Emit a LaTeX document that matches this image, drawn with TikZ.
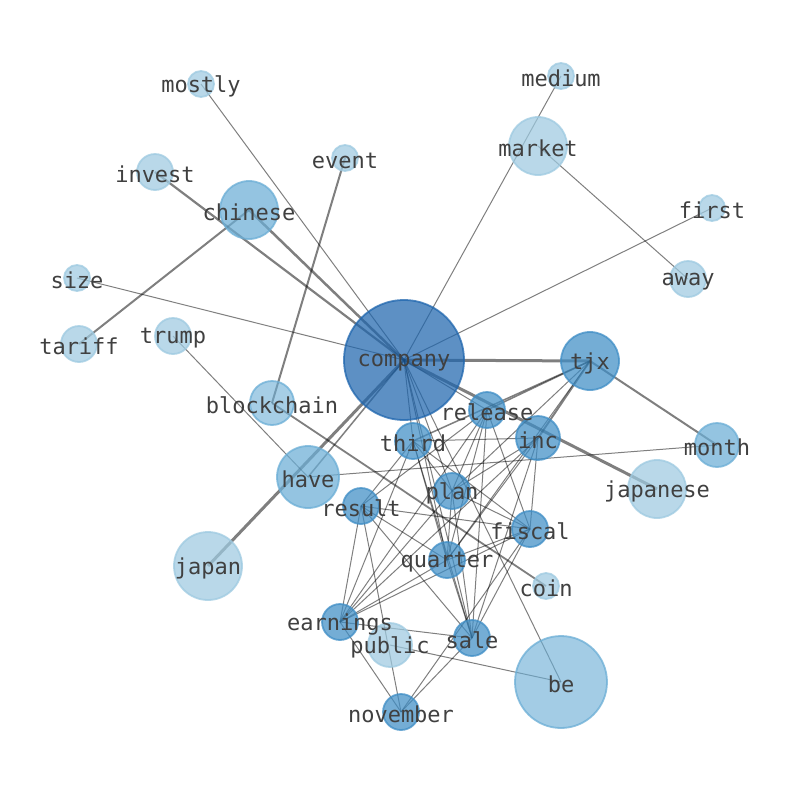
\documentclass[tikz,border=0pt]{standalone}
\usepackage{fontspec}
\setmonofont{DejaVu Sans Mono}
\usetikzlibrary{backgrounds}

\definecolor{nivA}{HTML}{1F66AE}
\definecolor{nivB}{HTML}{3F8EC6}
\definecolor{nivC}{HTML}{6BAED6}
\definecolor{nivD}{HTML}{9ECAE1}

\tikzset{
  mot/.style={circle, inner sep=0pt, line width=1.8pt, fill opacity=0.72, draw opacity=0.75},
  motA/.style={mot, fill=nivA, draw=nivA},
  motB/.style={mot, fill=nivB, draw=nivB},
  motC/.style={mot, fill=nivC, draw=nivC},
  motD/.style={mot, fill=nivD, draw=nivD},
  etiq/.style={inner sep=0pt, yshift=-2.5pt, text=black!75, font=\ttfamily\fontsize{22}{22}\selectfont},
  lien/.style={draw=black, draw opacity=0.5, line width=1pt},
  lienmoyen/.style={lien, line width=2pt},
  lienfort/.style={lien, line width=3pt}
}

\begin{document}
\begin{tikzpicture}[x=1pt, y=-1pt]
        \useasboundingbox (0,0) rectangle (794,790);

        % dessin des mots du centre
        \draw (404,360) node[motA, minimum size=120pt] (company) {};
        \draw (590,361) node[motB, minimum size=58pt] (tjx) {};
        \draw (487,410) node[motB, minimum size=36pt] (release) {};
        \draw (538,438) node[motB, minimum size=44pt] (inc) {};
        \draw (413,441) node[motB, minimum size=36pt] (third) {};
        \draw (452,491) node[motB, minimum size=36pt] (plan) {};
        \draw (361,506) node[motB, minimum size=36pt] (result) {};
        \draw (530,529) node[motB, minimum size=36pt] (fiscal) {};
        \draw (447,560) node[motB, minimum size=36pt] (quarter) {};
        \draw (340,622) node[motB, minimum size=36pt] (earnings) {};
        \draw (472,638) node[motB, minimum size=36pt] (sale) {};
        \draw (401,712) node[motB, minimum size=36pt] (november) {};

        % mots moyens
        \draw (308,477) node[motC, minimum size=62pt] (have) {};
        \draw (249,210) node[motC, minimum size=58pt] (chinese) {};
        \draw (717,445) node[motC, minimum size=44pt] (month) {};
        \draw (272,403) node[motC, minimum size=44pt, fill opacity=0.6] (blockchain) {};
        \draw (561,682) node[motC, minimum size=92pt, fill opacity=0.62] (be) {};

        % mots du bord
        \draw (208,566) node[motD, minimum size=68pt] (japan) {};
        \draw (657,489) node[motD, minimum size=58pt] (japanese) {};
        \draw (538,146) node[motD, minimum size=58pt] (market) {};
        \draw (390,645) node[motD, minimum size=44pt] (public) {};
        \draw (155,172) node[motD, minimum size=36pt] (invest) {};
        \draw (173,336) node[motD, minimum size=36pt] (trump) {};
        \draw (79,344) node[motD, minimum size=36pt] (tariff) {};
        \draw (688,279) node[motD, minimum size=36pt] (away) {};
        \draw (77,278) node[motD, minimum size=26pt] (size) {};
        \draw (201,84) node[motD, minimum size=26pt] (mostly) {};
        \draw (345,158) node[motD, minimum size=26pt] (event) {};
        \draw (561,76) node[motD, minimum size=26pt] (medium) {};
        \draw (712,208) node[motD, minimum size=26pt] (first) {};
        \draw (546,586) node[motD, minimum size=26pt] (coin) {};

        % les mots eux-memes
        \foreach \m in {company, tjx, release, inc, third, plan, result, fiscal,
            quarter, earnings, sale, november, have, chinese, month, blockchain,
            be, japan, japanese, market, public, invest, trump, tariff, away,
            size, mostly, event, medium, first, coin}
            \node[etiq] at (\m) {\m};

        \begin{scope}[on background layer]
        \fill[white] (0,0) rectangle (794,790);

        % liens forts depuis company
        \draw[lienfort] (company.center) -- (tjx.center);
        \draw[lienfort] (company.center) -- (japanese.center);
        \draw[lienfort] (company.center) -- (japan.center);
        \draw[lien, line width=2.5pt] (company.center) -- (chinese.center);
        \draw[lien, line width=2.2pt] (company.center) -- (invest.center);
        \draw[lien, line width=1.5pt] (company.center) -- (have.center);

        % liens simples depuis company
        \draw[lien] (company.center) -- (mostly.center);
        \draw[lien] (company.center) -- (size.center);
        \draw[lien] (company.center) -- (medium.center);
        \draw[lien] (company.center) -- (first.center);
        \draw[lien] (company.center) -- (release.center);
        \draw[lien] (company.center) -- (third.center);
        \draw[lien] (company.center) -- (plan.center);
        \draw[lien] (company.center) -- (quarter.center);
        \draw[lien] (company.center) -- (sale.center);
        \draw[lien] (company.center) -- (be.center);

        % liens autour de tjx
        \draw[lienmoyen] (tjx.center) -- (month.center);
        \draw[lienmoyen] (tjx.center) -- (inc.center);
        \draw[lien, line width=1.5pt] (tjx.center) -- (release.center);
        \draw[lien, line width=1.5pt] (tjx.center) -- (third.center);
        \draw[lien] (tjx.center) -- (plan.center);
        \draw[lien] (tjx.center) -- (quarter.center);

        % liens du bord
        \draw[lienmoyen] (chinese.center) -- (tariff.center);
        \draw[lienmoyen] (event.center) -- (blockchain.center);
        \draw[lien, line width=1.8pt] (blockchain.center) -- (coin.center);
        \draw[lien] (market.center) -- (away.center);
        \draw[lien] (trump.center) -- (have.center);
        \draw[lien] (have.center) -- (month.center);
        \draw[lien] (public.center) -- (be.center);

        % liens du paquet central
        \draw[lien] (release.center) -- (plan.center);
        \draw[lien] (release.center) -- (quarter.center);
        \draw[lien] (release.center) -- (sale.center);
        \draw[lien] (release.center) -- (earnings.center);
        \draw[lien] (release.center) -- (fiscal.center);
        \draw[lien] (release.center) -- (result.center);
        \draw[lien] (inc.center) -- (third.center);
        \draw[lien] (inc.center) -- (plan.center);
        \draw[lien] (inc.center) -- (quarter.center);
        \draw[lien] (inc.center) -- (earnings.center);
        \draw[lien] (inc.center) -- (fiscal.center);
        \draw[lien] (inc.center) -- (sale.center);
        \draw[lien] (third.center) -- (plan.center);
        \draw[lien] (third.center) -- (quarter.center);
        \draw[lien] (third.center) -- (sale.center);
        \draw[lien] (third.center) -- (earnings.center);
        \draw[lien] (third.center) -- (fiscal.center);
        \draw[lien] (third.center) -- (result.center);
        \draw[lien] (plan.center) -- (quarter.center);
        \draw[lien] (plan.center) -- (sale.center);
        \draw[lien] (plan.center) -- (fiscal.center);
        \draw[lien] (plan.center) -- (earnings.center);
        \draw[lien] (result.center) -- (fiscal.center);
        \draw[lien] (result.center) -- (quarter.center);
        \draw[lien] (result.center) -- (sale.center);
        \draw[lien] (result.center) -- (earnings.center);
        \draw[lien] (result.center) -- (november.center);
        \draw[lien] (fiscal.center) -- (quarter.center);
        \draw[lien] (fiscal.center) -- (sale.center);
        \draw[lien] (fiscal.center) -- (earnings.center);
        \draw[lien] (fiscal.center) -- (november.center);
        \draw[lien] (quarter.center) -- (sale.center);
        \draw[lien] (quarter.center) -- (earnings.center);
        \draw[lien] (earnings.center) -- (sale.center);
        \draw[lien] (earnings.center) -- (november.center);
        \draw[lien] (sale.center) -- (november.center);
        \end{scope}
\end{tikzpicture}
\end{document}
